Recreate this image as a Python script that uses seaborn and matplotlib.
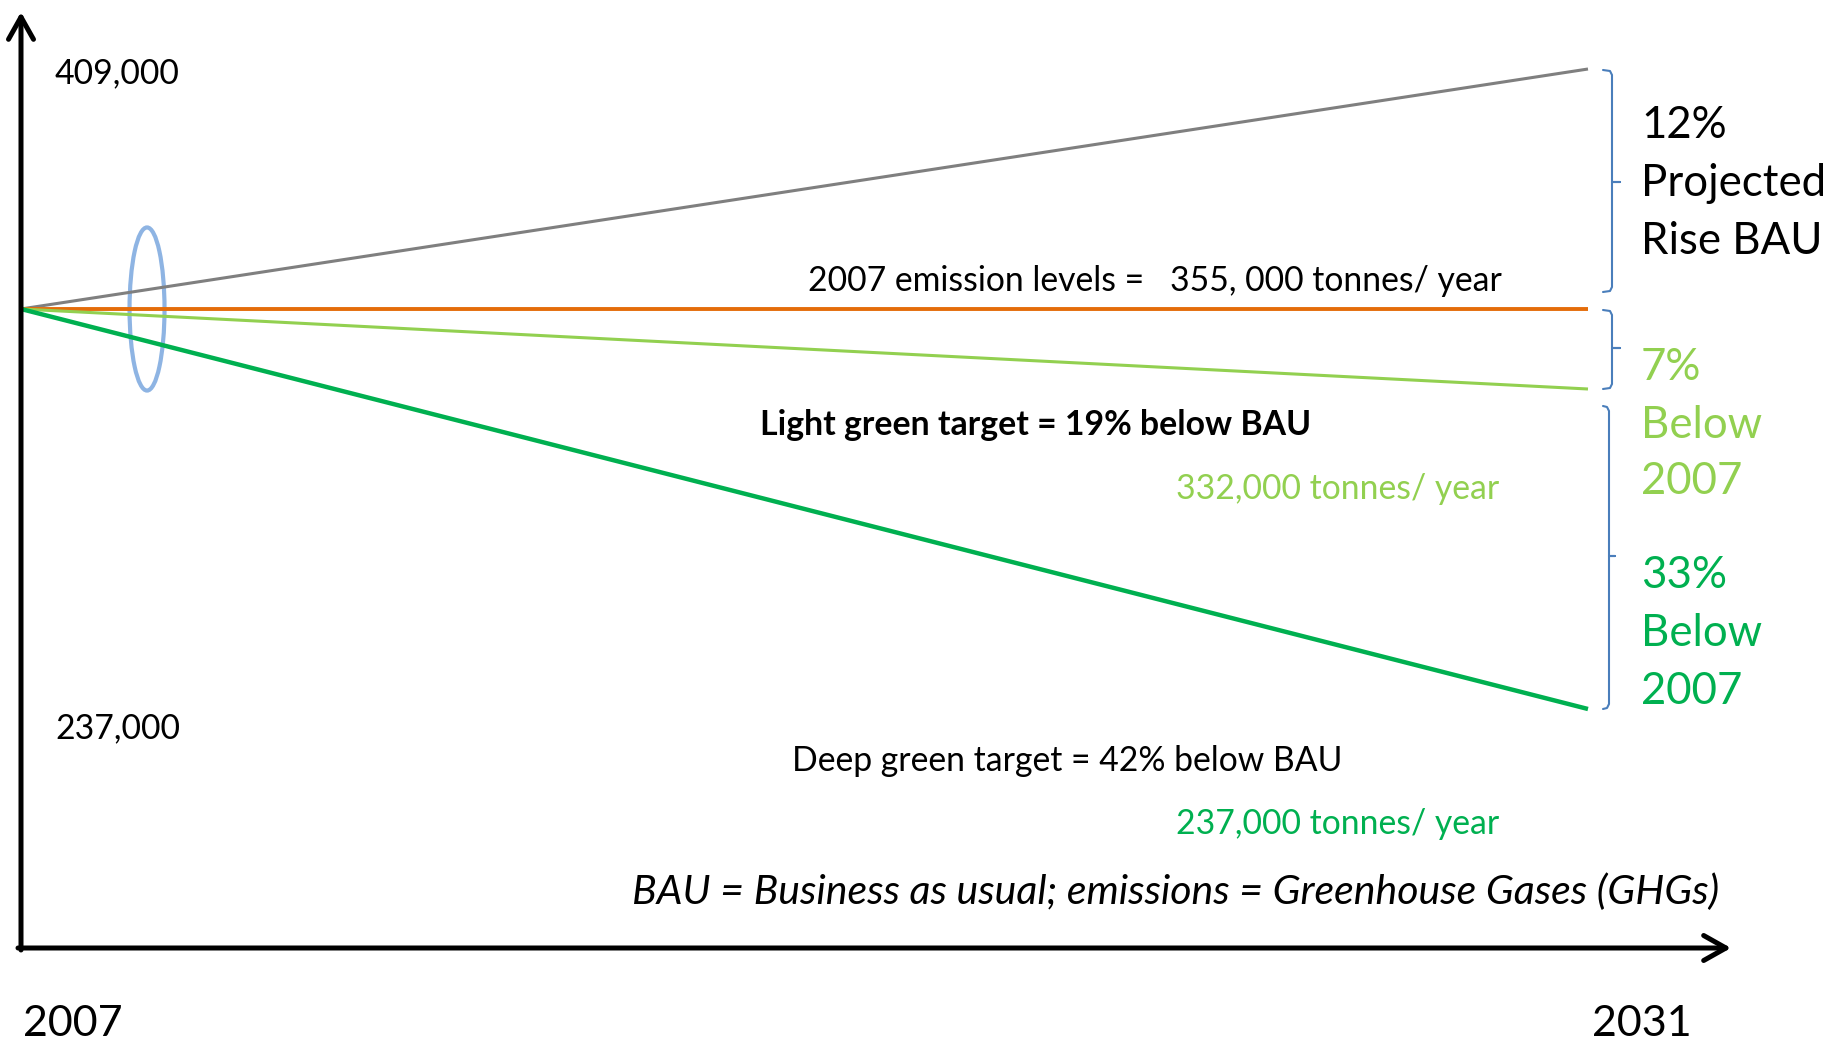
import numpy as np
import pandas as pd
import matplotlib
matplotlib.use("Agg")
import matplotlib.pyplot as plt
from matplotlib.patches import Ellipse
import seaborn as sns

# data (tonnes of GHG per year), schematic lines as drawn
years = [2007, 2031]
bau = [355000, 409000]
level_2007 = [355000, 355000]
light_green = [355000, 337000]
deep_green = [355000, 265000]

series_names = ["BAU", "2007 level", "Light green", "Deep green"]
series_colors = ["#7f7f7f", "#e46c0a", "#92d050", "#00b050"]
series_widths = [2.2, 2.8, 2.2, 3.2]

df = pd.DataFrame({
    "year": years * 4,
    "emissions": bau + level_2007 + light_green + deep_green,
    "series": [n for n in series_names for _ in years],
})

W, H = 1831, 1041
sns.set_theme(style="white")
plt.rcParams["font.family"] = ["Lato", "DejaVu Sans"]
plt.rcParams["text.color"] = "black"

fig = plt.figure(figsize=(W / 100, H / 100), dpi=100)
ax = fig.add_axes([0, 0, 1, 1])

sns.lineplot(data=df, x="year", y="emissions", hue="series", hue_order=series_names,
             palette=dict(zip(series_names, series_colors)), legend=False, ax=ax)
for line, w in zip(ax.lines, series_widths):
    line.set_linewidth(w)
    line.set_solid_capstyle("butt")

ax.set_xlim(2006.678, 2034.722)
ax.set_ylim(190300, 424525)
ax.axis("off")


def px(x, y):
    return x / W, 1 - (y + 2) / H


# axes arrows
arrow = dict(arrowstyle="->,head_length=0.8,head_width=0.45", lw=3.6, color="black",
             mutation_scale=20, shrinkA=0, shrinkB=0)
ax.annotate("", xy=px(21, 10), xytext=px(21, 948), xycoords="axes fraction", arrowprops=arrow)
ax.annotate("", xy=px(1731, 946), xytext=px(18, 946), xycoords="axes fraction", arrowprops=arrow)

# highlight ellipse around start
ax.add_patch(Ellipse((2008.93, 355000), width=0.536, height=36700, fill=False,
                     edgecolor="#8eb4e3", lw=3))


# curly brackets on the right
def bracket(x0, x1, xt, top, bot, mid):
    xs = [x0, x1 - 2, x1, x1, xt, x1, x1, x1 - 2, x0]
    ys = [top, top + 1, top + 5, mid, mid, mid, bot - 5, bot - 1, bot]
    pts = [px(a, b - 2) for a, b in zip(xs, ys)]
    ax.plot([p[0] for p in pts], [p[1] for p in pts], color="#4a7ebb", lw=1.5,
            transform=ax.transAxes)


bracket(1603, 1612, 1620, 70, 292, 182)
bracket(1603, 1612, 1620, 310, 389, 348)
bracket(1603, 1609, 1615, 406, 709, 556)

black = "#000000"
lg = series_colors[2]
dg = series_colors[3]
med = 24.3

ax.text(*px(55, 71), "409,000", fontsize=med, va="center", transform=ax.transAxes)
ax.text(*px(55, 726), "237,000", fontsize=med, va="center", transform=ax.transAxes)
ax.text(*px(808, 279), "2007 emission levels =   355, 000 tonnes/ year", fontsize=med,
        va="center", transform=ax.transAxes)
ax.text(*px(760, 423), "Light green target = 19% below BAU", fontsize=med, weight="bold",
        va="center", transform=ax.transAxes)
ax.text(*px(1176, 487), "332,000 tonnes/ year", fontsize=med, color=lg, va="center",
        transform=ax.transAxes)
ax.text(*px(792, 759), "Deep green target = 42% below BAU", fontsize=med, va="center",
        transform=ax.transAxes)
ax.text(*px(1176, 822), "237,000 tonnes/ year", fontsize=med, color=dg, va="center",
        transform=ax.transAxes)
ax.text(*px(632, 890), "BAU = Business as usual; emissions = Greenhouse Gases (GHGs)",
        fontsize=29.5, style="italic", va="center", transform=ax.transAxes)

ax.text(*px(23, 1022), "2007", fontsize=31, va="center", transform=ax.transAxes)
ax.text(*px(1592, 1022), "2031", fontsize=31, va="center", transform=ax.transAxes)

side = [("12%", 124, black), ("Projected", 181, black), ("Rise BAU", 239, black),
        ("7%", 365, lg), ("Below", 423, lg), ("2007", 480, lg),
        ("33%", 573, dg), ("Below", 631, dg), ("2007", 689, dg)]
for txt, y, c in side:
    ax.text(*px(1641, y), txt, fontsize=31.5, color=c, va="center", transform=ax.transAxes)

fig.savefig("out.png", dpi=100)
